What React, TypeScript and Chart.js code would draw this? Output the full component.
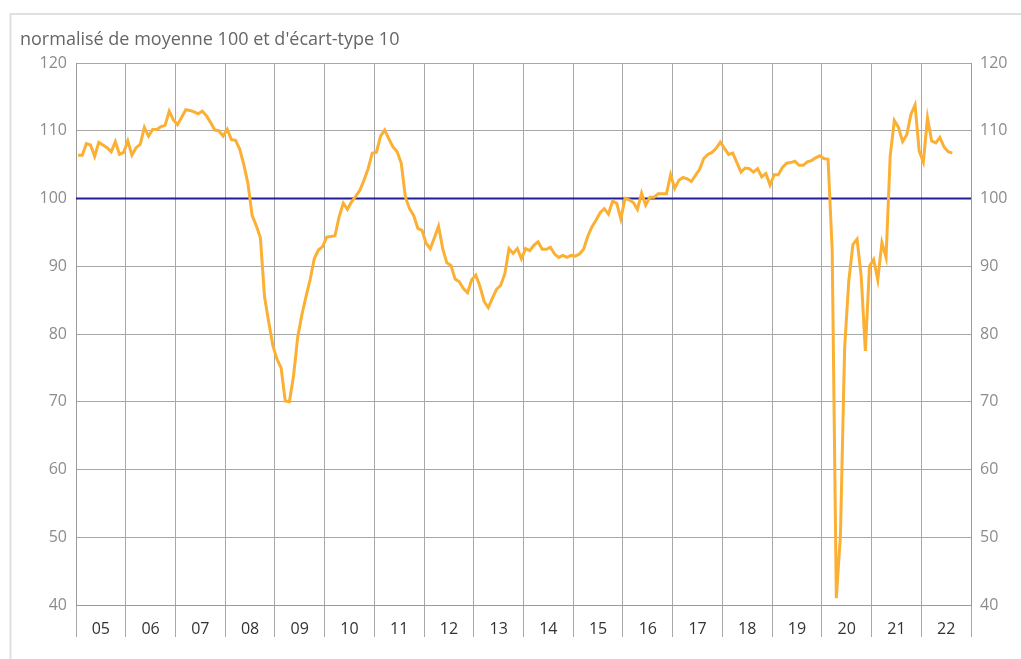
import React, { useEffect, useRef } from "react";
import { Chart, registerables } from "chart.js";

Chart.register(...registerables);

const titleText = "normalisé de moyenne 100 et d'écart-type 10";

const yearLabels = ["05", "06", "07", "08", "09", "10", "11", "12", "13", "14", "15", "16", "17", "18", "19", "20", "21", "22"];

const referenceLevel = 100;
const yMin = 40;
const yMax = 120;
const yStep = 10;

// Monthly values, Jan 2005 -> Aug 2022
const values2005_2009 = [
  106.4, 106.4, 108.1, 107.9, 106.2, 108.3, 107.9, 107.5, 106.9, 108.4, 106.5, 106.8,
  108.5, 106.4, 107.5, 108.0, 110.5, 109.2, 110.2, 110.2, 110.6, 110.8, 112.9, 111.6,
  110.9, 112.0, 113.1, 113.0, 112.8, 112.5, 112.9, 112.2, 111.2, 110.1, 110.0, 109.2,
  110.2, 108.7, 108.6, 107.3, 105.0, 102.2, 97.5, 96.0, 94.2, 85.5, 81.8, 78.3,
  76.3, 75.0, 70.1, 70.0, 73.8, 79.5, 82.8, 85.5, 88.0, 91.1, 92.4, 92.9,
];
const values2010_2014 = [
  94.3, 94.4, 94.5, 97.3, 99.3, 98.4, 99.5, 100.3, 101.2, 102.7, 104.4, 106.7,
  106.8, 109.2, 110.1, 108.8, 107.6, 106.9, 105.2, 100.2, 98.5, 97.5, 95.6, 95.3,
  93.4, 92.6, 94.2, 95.9, 92.6, 90.5, 90.1, 88.1, 87.7, 86.7, 86.1, 88.0,
  88.7, 87.0, 84.8, 83.9, 85.3, 86.6, 87.2, 88.9, 92.6, 91.9, 92.6, 91.1,
  92.6, 92.3, 93.1, 93.6, 92.5, 92.5, 92.8, 91.8, 91.3, 91.6, 91.3, 91.6,
];
const values2015_2019 = [
  91.5, 91.8, 92.5, 94.4, 95.8, 96.8, 97.9, 98.5, 97.7, 99.6, 99.3, 97.0,
  100.0, 99.8, 99.4, 98.4, 100.8, 99.0, 100.2, 100.2, 100.7, 100.7, 100.7, 103.5,
  101.5, 102.7, 103.1, 102.9, 102.5, 103.4, 104.3, 105.9, 106.5, 106.8, 107.4, 108.3,
  107.4, 106.5, 106.7, 105.3, 103.9, 104.5, 104.4, 103.9, 104.4, 103.2, 103.7, 102.0,
  103.5, 103.5, 104.6, 105.2, 105.3, 105.5, 104.9, 104.9, 105.4, 105.6, 106.0, 106.3,
];
const values2020_2022 = [
  105.9, 105.8, 92.4, 41.0, 50.4, 77.9, 87.8, 93.2, 94.0, 88.5, 77.5, 90.0,
  91.0, 88.0, 93.5, 91.3, 106.3, 111.5, 110.5, 108.4, 109.4, 112.4, 113.8, 107.0,
  105.4, 111.9, 108.5, 108.2, 109.0, 107.6, 106.9, 106.7,
];

const monthlyValues = [...values2005_2009, ...values2010_2014, ...values2015_2019, ...values2020_2022];

const framePlugin = {
  id: "frame",
  beforeDraw(chart: any) {
    const ctx = chart.ctx;
    ctx.save();
    ctx.fillStyle = "#ffffff";
    ctx.fillRect(0, 0, chart.width, chart.height);
    ctx.strokeStyle = "#e0e0e0";
    ctx.lineWidth = 2;
    ctx.beginPath();
    ctx.moveTo(10.5, chart.height + 10);
    ctx.lineTo(10.5, 14);
    ctx.lineTo(chart.width + 10, 14);
    ctx.stroke();
    ctx.font = '18px "Open Sans"';
    ctx.fillStyle = "#666666";
    ctx.textBaseline = "alphabetic";
    ctx.textAlign = "left";
    ctx.fillText(titleText, 20, 45);
    ctx.restore();
  },
};

export default function App() {
  const canvasRef = useRef<HTMLCanvasElement>(null);

  useEffect(() => {
    const points = monthlyValues.map((v, i) => ({ x: (i + 0.5) / 12, y: v }));
    const refLine = [
      { x: 0, y: referenceLevel },
      { x: yearLabels.length, y: referenceLevel },
    ];
    const gridColor = "#a8a8a8";
    const font = { family: "'Open Sans'", size: 16 };
    const chart = new Chart(canvasRef.current as HTMLCanvasElement, {
      type: "line",
      data: {
        labels: yearLabels,
        datasets: [
          {
            data: points,
            xAxisID: "xd",
            yAxisID: "y",
            borderColor: "#fbb034",
            borderWidth: 3,
            pointRadius: 0,
            tension: 0,
            fill: false,
          },
          {
            data: refLine,
            xAxisID: "xd",
            yAxisID: "y",
            borderColor: "#1f1f97",
            borderWidth: 2,
            pointRadius: 0,
            fill: false,
          },
        ],
      },
      options: {
        responsive: false,
        animation: false,
        layout: { padding: { top: 63, left: 0, right: 0, bottom: 0 } },
        plugins: {
          legend: { display: false },
          tooltip: { enabled: false },
          title: { display: false },
        },
        scales: {
          x: {
            type: "category",
            position: "bottom",
            offset: true,
            grid: { offset: true, color: gridColor, lineWidth: 1, tickLength: 32, drawTicks: true },
            border: { color: "#999999" },
            ticks: { color: "#333333", font, padding: -17, maxRotation: 0, autoSkip: false },
            afterFit: (s: any) => {
              s.height = 54;
            },
          },
          xd: {
            type: "linear",
            display: false,
            min: 0,
            max: yearLabels.length,
          },
          y: {
            position: "left",
            min: yMin,
            max: yMax,
            ticks: { stepSize: yStep, color: "#8c8c8c", font, padding: 9 },
            grid: { color: gridColor, drawTicks: false },
            border: { color: "#999999" },
            afterFit: (s: any) => {
              s.width = 76;
            },
          },
          y2: {
            position: "right",
            min: yMin,
            max: yMax,
            ticks: { stepSize: yStep, color: "#8c8c8c", font, padding: 9 },
            grid: { display: false, drawTicks: false },
            border: { display: true, color: "#999999" },
            afterFit: (s: any) => {
              s.width = 50;
            },
          },
        },
      },
      plugins: [framePlugin],
    } as any);
    return () => chart.destroy();
  }, []);

  return (
    <div style={{ position: "absolute", left: 0, top: 0, width: 1021, height: 659 }}>
      <canvas ref={canvasRef} width={1021} height={659} style={{ display: "block" }} />
    </div>
  );
}
